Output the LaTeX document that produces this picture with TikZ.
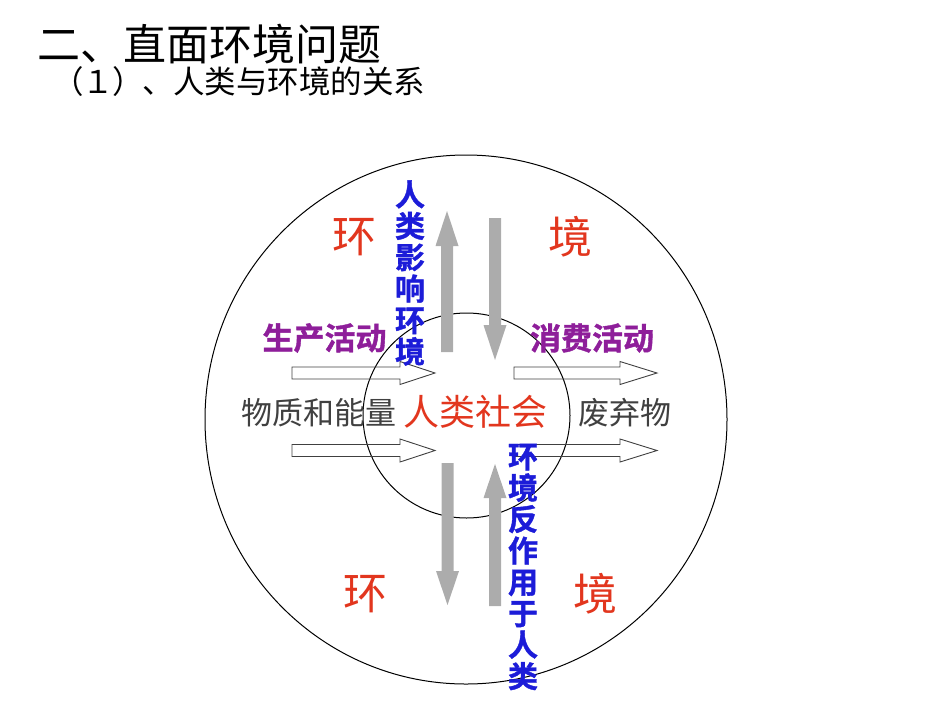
\documentclass[tikz,border=0pt]{standalone}
\usepackage{fontspec}
\setmainfont{Noto Sans CJK SC}
\newfontfamily\heavycjk[UprightFont={* Bold},FakeBold=1.2]{Noto Sans CJK SC}
\usepackage{xcolor}
\definecolor{envred}{RGB}{226,54,30}
\definecolor{actpurple}{RGB}{142,30,154}
\definecolor{relblue}{RGB}{28,28,216}
\definecolor{flowgray}{RGB}{64,64,64}
\definecolor{bandgray}{RGB}{172,172,172}
\newcommand{\fullcell}[1]{\makebox[30pt]{#1}}

\begin{document}
\begin{tikzpicture}[x=1pt,y=1pt,yscale=-1,xscale=1]
\tikzset{
  envtext/.style={text=envred,inner sep=0pt,font=\fontsize{44}{44}\selectfont},
  acttext/.style={text=actpurple,inner sep=0pt,font=\fontsize{31}{31}\selectfont\heavycjk},
  reltext/.style={text=relblue,inner sep=0pt,align=center,font=\fontsize{30}{31.4}\selectfont\heavycjk},
  flowtext/.style={text=flowgray,inner sep=0pt,font=\fontsize{31}{31}\selectfont},
  hollowarrow/.style={draw=flowgray,line width=0.9pt,line join=miter},
  bandarrow/.style={fill=bandgray}
}
\useasboundingbox (0,0) rectangle (950,713);

% titles
\node (title) [anchor=west,inner sep=0pt,font=\fontsize{43}{43}\selectfont] at (37,44) {二、直面环境问题};
\node (subtitle) [anchor=west,inner sep=0pt,font=\fontsize{31.5}{31.5}\selectfont] at (53,82) {\fullcell{（}\fullcell{１}\fullcell{）}\fullcell{、}人类与环境的关系};

% circles
\draw [line width=1pt] (466,419.5) ellipse [x radius=261,y radius=264.5];
\draw [line width=1pt] (466.5,415.5) ellipse [x radius=103.5,y radius=102.5];

% hollow arrows: tail, head base, tip, middle
\foreach \tl/\bs/\tp/\cy in {292/400/435/373, 292/400/435/450.5, 514/620/657/373, 514/620/657/450.5}
  \draw [hollowarrow] (\tl,\cy-6) -- (\bs,\cy-6) -- (\bs,\cy-11.5) -- (\tp,\cy) -- (\bs,\cy+11.5) -- (\bs,\cy+6) -- (\tl,\cy+6) -- cycle;

% grey arrows: x, tail, head base, tip
\foreach \cx/\tl/\bs/\tp in {447/352/246/211, 495/218/325/360, 447.5/463/571/605, 495/606/498/464}
  \fill [bandarrow] (\cx-6,\tl) -- (\cx-6,\bs) -- (\cx-11.5,\bs) -- (\cx,\tp) -- (\cx+11.5,\bs) -- (\cx+6,\bs) -- (\cx+6,\tl) -- cycle;

% environment
\node (envA) [envtext] at (354,237) {环};
\node (envB) [envtext] at (570,237) {境};
\node (envC) [envtext] at (365,594) {环};
\node (envD) [envtext] at (595,594) {境};

% activities
\node (produce) [acttext] at (324.5,338) {生产活动};
\node (consume) [acttext] at (592,338) {消费活动};

% flows
\node (matter) [flowtext] at (319,413) {物质和能量};
\node (society) [inner sep=0pt,text=envred,font=\fontsize{36}{36}\selectfont] at (475.5,412) {人类社会};
\node (waste) [flowtext] at (625,413) {废弃物};

% vertical labels
\node (impact) [reltext] at (410,273) {人\\类\\影\\响\\环\\境};
\node (feedback) [reltext] at (523,567) {环\\境\\反\\作\\用\\于\\人\\类};

\end{tikzpicture}
\end{document}
